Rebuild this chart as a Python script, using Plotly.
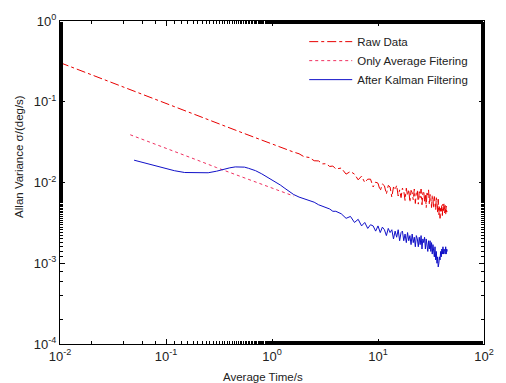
import plotly.graph_objects as go

# ---------------- data ----------------
tau_raw_smooth = [0.01, 0.015, 0.02, 0.03, 0.05, 0.07, 0.1, 0.15, 0.2, 0.3, 0.5, 0.7, 1.0, 1.3, 1.6]
raw_smooth = [0.305, 0.248, 0.215, 0.176, 0.135, 0.114, 0.0953, 0.078, 0.0672, 0.055, 0.0423, 0.0358, 0.0298, 0.0262, 0.0238]

tau_noisy = [1.8, 2.0, 2.25, 2.5, 2.75, 3.0, 3.25, 3.5, 3.75, 4.0, 4.5, 5.0, 5.5, 6.0, 6.5, 7.0, 7.5,
             8.0, 8.5, 9.0, 9.5, 10.0, 10.5, 11.0, 11.5, 12.0, 12.5, 13.0, 13.5, 14.0, 14.5, 15.0,
             15.5, 16.0, 16.5, 17.0, 17.5, 18.0, 18.5, 19.0, 19.5, 20.0, 20.5, 21.0, 21.5, 22.0,
             22.5, 23.0, 23.5, 24.0, 24.5, 25.0, 25.5, 26.0, 26.5, 27.0, 27.5, 28.0, 28.5, 29.0,
             29.5, 30.0, 30.5, 31.0, 31.5, 32.0, 32.5, 33.0, 33.5, 34.0, 34.5, 35.0, 35.5, 36.0,
             36.5, 37.0, 37.5, 38.0, 38.5, 39.0, 39.5, 40.0, 40.5, 41.0, 41.5, 42.0, 42.5, 43.0,
             43.5, 44.0, 44.5, 45.0]

raw_noisy = [0.0227, 0.0209, 0.0204, 0.0186, 0.0185, 0.0170, 0.0171, 0.0158, 0.0160, 0.0147,
             0.0151, 0.0127, 0.0137, 0.0127, 0.0108, 0.0120, 0.0100, 0.0110, 0.0110, 0.0088,
             0.0101, 0.0098, 0.0079, 0.0096, 0.0091, 0.0072, 0.0092, 0.0088, 0.0066, 0.0088,
             0.0081, 0.0092, 0.0068, 0.0081, 0.0065, 0.0085, 0.0079, 0.0060, 0.0085, 0.0069,
             0.0082, 0.0057, 0.0080, 0.0075, 0.0061, 0.0083, 0.0055, 0.0075, 0.0080, 0.0054,
             0.0077, 0.0065, 0.0083, 0.0053, 0.0074, 0.0079, 0.0058, 0.0072, 0.0049, 0.0077,
             0.0070, 0.0081, 0.0053, 0.0071, 0.0065, 0.0049, 0.0070, 0.0062, 0.0048, 0.0067,
             0.0060, 0.0046, 0.0065, 0.0057, 0.0043, 0.0062, 0.0040, 0.0052, 0.0036, 0.0050,
             0.0044, 0.0053, 0.0039, 0.0054, 0.0045, 0.0055, 0.0042, 0.0052, 0.0040, 0.0051,
             0.0043, 0.0047]

tau_avg = [0.046, 0.07, 0.1, 0.15, 0.2, 0.3, 0.5, 0.7, 1.0, 1.3, 1.6]
avg_only = [0.039, 0.0318, 0.0265, 0.0217, 0.0188, 0.0153, 0.0119, 0.0100, 0.0084, 0.0074, 0.0068]

tau_kal_smooth = [0.05, 0.06, 0.07, 0.08, 0.1, 0.12, 0.15, 0.2, 0.25, 0.3, 0.35, 0.4, 0.45, 0.5,
                  0.55, 0.6, 0.7, 0.8, 0.9, 1.0, 1.1, 1.2, 1.3, 1.4, 1.5, 1.6]
kal_smooth = [0.0189, 0.0178, 0.0168, 0.0160, 0.0148, 0.0140, 0.0133, 0.0131, 0.0132, 0.0138,
              0.0146, 0.0152, 0.0156, 0.0157, 0.0155, 0.0150, 0.0140, 0.0128, 0.0117, 0.0108,
              0.0100, 0.0093, 0.0086, 0.0080, 0.0075, 0.0071]

kal_noisy = [0.0066, 0.0063, 0.0059, 0.0057, 0.0053, 0.0051, 0.0049, 0.0047, 0.0044, 0.0044,
             0.0041, 0.0036, 0.0038, 0.0032, 0.0035, 0.0029, 0.0032, 0.0027, 0.0030, 0.0029,
             0.0025, 0.0029, 0.0024, 0.0028, 0.0026, 0.0022, 0.0027, 0.0024, 0.0026, 0.0020,
             0.0025, 0.0021, 0.0026, 0.0019, 0.0024, 0.0025, 0.0019, 0.0023, 0.0018, 0.0024,
             0.0019, 0.0022, 0.0017, 0.0023, 0.0018, 0.0021, 0.0016, 0.0022, 0.0020, 0.0016,
             0.0021, 0.0017, 0.0022, 0.0015, 0.0020, 0.0018, 0.0021, 0.0015, 0.0020, 0.0016,
             0.0014, 0.0019, 0.0015, 0.0019, 0.0014, 0.0018, 0.0013, 0.0017, 0.0015, 0.0012,
             0.0016, 0.0011, 0.0014, 0.0010, 0.0012, 0.00090, 0.0010, 0.0012, 0.0011, 0.0014,
             0.0012, 0.0015, 0.0013, 0.0016, 0.0013, 0.0015, 0.0014, 0.0013, 0.0016, 0.0013,
             0.0015, 0.0014]

series_names = ["Raw Data", "Only Average Fitering", "After Kalman Filtering"]

x_tickvals = [0.01, 0.1, 1, 10, 100]
x_ticktext = ["10<sup>-2</sup>", "10<sup>-1</sup>", "10<sup>0</sup>", "10<sup>1</sup>", "10<sup>2</sup>"]
y_tickvals = [0.0001, 0.001, 0.01, 0.1, 1]
y_ticktext = ["10<sup>-4</sup>", "10<sup>-3</sup>", "10<sup>-2</sup>", "10<sup>-1</sup>", "10<sup>0</sup>"]

FONT = "Liberation Sans, Arial, sans-serif"
TXT = "#222"

fig = go.Figure()
fig.add_trace(go.Scatter(x=tau_raw_smooth + tau_noisy, y=raw_smooth + raw_noisy, mode="lines",
                         name=series_names[0],
                         line=dict(color="#e80000", width=1, dash="dashdot")))
fig.add_trace(go.Scatter(x=tau_avg, y=avg_only, mode="lines", name=series_names[1],
                         line=dict(color="#f03060", width=1, dash="dot")))
fig.add_trace(go.Scatter(x=tau_kal_smooth + tau_noisy, y=kal_smooth + kal_noisy, mode="lines",
                         name=series_names[2],
                         line=dict(color="#1010c8", width=1)))

axis_common = dict(
    type="log", showgrid=False, zeroline=False,
    showline=True, linecolor="black", linewidth=1, mirror="ticks",
    ticks="inside", ticklen=5, tickcolor="black",
    minor=dict(ticks="inside", ticklen=3, tickcolor="black", showgrid=False),
    tickfont=dict(family=FONT, size=13, color=TXT),
)

fig.update_xaxes(range=[-2, 2], tickmode="array", tickvals=x_tickvals, ticktext=x_ticktext,
                 **axis_common)
fig.update_yaxes(range=[-4, 0], tickmode="array", tickvals=y_tickvals, ticktext=y_ticktext,
                 **axis_common)

fig.update_layout(
    width=506, height=383,
    margin=dict(l=60, r=14, t=21, b=39),
    paper_bgcolor="white", plot_bgcolor="white",
    font=dict(family=FONT, size=11.5, color=TXT),
    showlegend=True,
    legend=dict(x=0.576, y=0.981, xanchor="left", yanchor="top",
                bgcolor="rgba(0,0,0,0)", borderwidth=0, itemwidth=43,
                font=dict(family=FONT, size=11.5, color=TXT),
                tracegroupgap=0),
    annotations=[
        dict(text="Allan Variance σ/(deg/s)", xref="paper", yref="paper",
             x=-0.097, y=0.582, xanchor="center", yanchor="middle",
             textangle=-90, showarrow=False,
             font=dict(family=FONT, size=11.5, color=TXT)),
        dict(text="Average Time/s", xref="paper", yref="paper",
             x=0.479, y=-0.102, xanchor="center", yanchor="middle", showarrow=False,
             font=dict(family=FONT, size=11.5, color=TXT)),
    ],
)

fig.write_html("out.html")
